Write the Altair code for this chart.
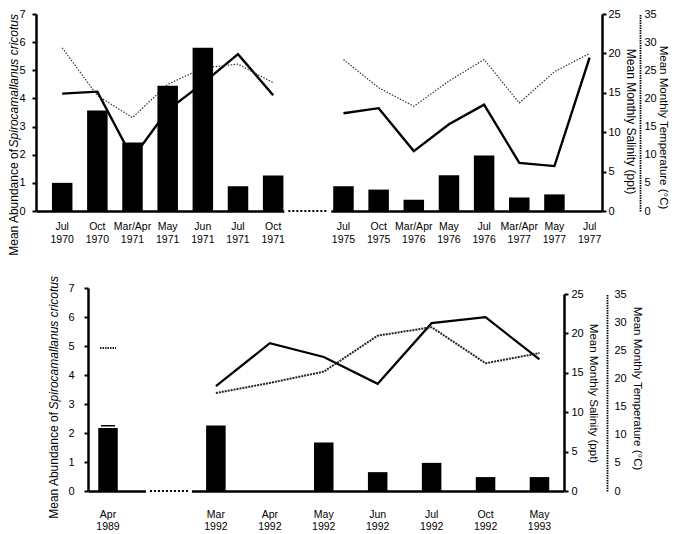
import altair as alt
import pandas as pd

FONT = "Liberation Sans, Arial, sans-serif"

# ---------------- data: upper panel ----------------
top_months = ["Jul 1970", "Oct 1970", "Mar/Apr 1971", "May 1971", "Jun 1971", "Jul 1971", "Oct 1971",
              "gap",
              "Jul 1975", "Oct 1975", "Mar/Apr 1976", "May 1976", "Jul 1976", "Mar/Apr 1977", "May 1977", "Jul 1977"]
top_abundance = [1.0, 3.57, 2.43, 4.45, 5.8, 0.88, 1.26, None, 0.88, 0.76, 0.40, 1.27, 1.97, 0.48, 0.59, None]
top_salinity = [14.9, 15.15, 6.7, 12.8, 16.2, 19.9, 14.7, None, 12.4, 13.05, 7.6, 11.0, 13.5, 6.1, 5.7, 19.45]
top_temperature = [29.0, 20.5, 16.6, 22.5, 25.4, 26.1, 22.8, None, 26.9, 21.9, 18.6, 23.1, 26.9, 19.2, 24.75, 28.0]
top_period = ["1970-71"] * 7 + [None] + ["1975-77"] * 8

# ---------------- data: lower panel ----------------
bot_months = ["Apr 1989", "gap", "Mar 1992", "Apr 1992", "May 1992", "Jun 1992", "Jul 1992", "Oct 1992", "May 1993"]
bot_abundance = [2.17, None, 2.26, None, 1.67, 0.65, 0.97, 0.48, 0.48]
bot_error_top = [2.25, None, None, None, None, None, None, None, None]
bot_salinity = [None, None, 13.3, 18.75, 17.0, 13.6, 21.3, 22.05, 16.7]
bot_temperature = [25.4, None, 17.4, 19.2, 21.2, 27.6, 29.1, 22.7, 24.5]
bot_period = ["1989", None] + ["1992-93"] * 7

title_plain = "Mean Abundance of"
title_italic = "Spirocamallanus cricotus"
sal_title = "Mean Monthly Salinity (ppt)"
temp_title = "Mean Monthly Temperature (\u00b0C)"


def frame(months, ab, sal, temp, period, err=None):
    d = pd.DataFrame({"month": months, "abundance": ab, "salinity": sal,
                      "temperature": temp, "period": period})
    if err is not None:
        d["err"] = err
    return d


def panel(df, months, W, H, band, xlab, left, sal_ax, temp_ax, temp_style, title_pos, line_w, gap_off):
    X = alt.X("month:N",
              scale=alt.Scale(domain=months, paddingInner=band[0], paddingOuter=band[1], align=band[2]),
              axis=alt.Axis(title=None, labelAngle=0, ticks=False, tickSize=0, labelPadding=xlab[0],
                            labelExpr="datum.label == 'gap' ? '' : split(datum.label, ' ')",
                            labelFont=FONT, labelFontSize=10.5, labelLineHeight=xlab[1],
                            labelOverlap=False, domainWidth=2.5))

    def yab(field):
        return alt.Y(field + ":Q", scale=alt.Scale(domain=[0, 7], nice=False),
                     axis=alt.Axis(orient="left", values=list(range(8)), title=None, tickSize=4, tickWidth=2,
                                   domainWidth=2.5, labelPadding=left, labelFont=FONT, labelFontSize=11,
                                   labelOverlap=False))

    Yab = yab("abundance")
    Ysal = alt.Y("salinity:Q", scale=alt.Scale(domain=[0, 25], nice=False, range=[H, sal_ax["top"]]),
                 axis=alt.Axis(orient="right", values=[0, 5, 10, 15, 20, 25], title=sal_title,
                               tickSize=4, tickWidth=2, domainWidth=2.5, labelPadding=sal_ax["lp"],
                               labelFont=FONT, labelFontSize=11, titleFont=FONT, labelOverlap=False,
                               titleFontSize=sal_ax["fs"], titlePadding=sal_ax["tp"], titleY=sal_ax["ty"]))
    Ytemp = alt.Y("temperature:Q", scale=alt.Scale(domain=[0, 35], nice=False, range=[H, sal_ax["top"]]),
                  axis=alt.Axis(orient="right", offset=temp_ax["off"], values=[0, 5, 10, 15, 20, 25, 30, 35],
                                title=temp_title, ticks=False, tickSize=0, domainWidth=1.8,
                                domainDash=[1.5, 1], labelPadding=temp_ax["lp"], labelFont=FONT,
                                labelFontSize=11, titleFont=FONT, titleFontSize=temp_ax["fs"],
                                labelOverlap=False, titlePadding=temp_ax["tp"], titleY=temp_ax["ty"]))

    lines = df[df["salinity"].notna()]
    temps = df[df["temperature"].notna()]
    bars = df[df["abundance"].notna()]

    sal_layer = alt.Chart(lines).mark_line(color="black", strokeWidth=line_w).encode(
        x=X, y=Ysal, detail="period:N")

    temp_line = alt.Chart(temps).mark_line(color=temp_style["color"], strokeWidth=temp_style["w"],
                                           strokeDash=temp_style["dash"]).encode(
        x=X, y=Ytemp, detail="period:N")
    counts = temps.groupby("period")["month"].transform("count")
    singles = temps[counts == 1]
    temp_group = temp_line
    if len(singles):
        dash = alt.Chart(singles).mark_rule(color=temp_style["color"], strokeWidth=2,
                                            strokeDash=[1.5, 1], xOffset=-8, x2Offset=8).encode(
            x=X, x2="month:N", y=Ytemp)
        temp_group = alt.layer(temp_line, dash)

    g0, g1 = gap_off
    gap = pd.DataFrame({"month": ["gap"], "abundance": [0.0]})
    cover = alt.Chart(gap).mark_rule(color="white", strokeWidth=5, xOffset=g0 - 4, x2Offset=g1 + 4).encode(
        x=X, x2="month:N", y=Yab)
    dotted = alt.Chart(gap).mark_rule(color="black", strokeWidth=2, strokeDash=[2, 2],
                                      xOffset=g0, x2Offset=g1).encode(x=X, x2="month:N", y=Yab)
    bar_layer = alt.Chart(bars).mark_bar(color="black").encode(x=X, y=Yab)
    layers = [cover, dotted, bar_layer]
    if "err" in df.columns:
        errs = df[df["err"].notna()]
        cap = alt.Chart(errs).mark_rule(color="black", strokeWidth=1.5, xOffset=-7, x2Offset=7).encode(
            x=X, x2="month:N", y=yab("err"))
        layers.append(cap)
    tx, tj, ttop = title_pos
    t1 = alt.Chart(pd.DataFrame({"t": [title_plain]})).mark_text(
        angle=270, align="right", baseline="middle", font=FONT, fontSize=12, color="black").encode(
        text="t:N", x=alt.value(tx), y=alt.value(tj))
    t2 = alt.Chart(pd.DataFrame({"t": [title_italic]})).mark_text(
        angle=270, align="right", baseline="middle", font=FONT, fontSize=12, fontStyle="italic",
        color="black").encode(text="t:N", x=alt.value(tx), y=alt.value(ttop))
    layers += [t1, t2]
    ab_group = alt.layer(*layers)

    return alt.layer(sal_layer, temp_group, ab_group).resolve_scale(y="independent").properties(
        width=W, height=H)


top_df = frame(top_months, top_abundance, top_salinity, top_temperature, top_period)
bot_df = frame(bot_months, bot_abundance, bot_salinity, bot_temperature, bot_period, bot_error_top)

top = panel(top_df, top_months, 566, 197, (0.417, 0.2574, 0.881), (10, 13), 7,
            {"top": 0, "lp": 2, "fs": 12, "tp": 3, "ty": 107},
            {"off": 38, "lp": 4, "fs": 11.5, "tp": 1, "ty": 113},
            {"color": "#333333", "w": 1.2, "dash": [1.5, 1.5]},
            (-22, 135, 0), 2.4, (-20, 19))

bottom = panel(bot_df, bot_months, 476, 203, (0.638, 0.2318, 0.41), (18, 12), 10,
               {"top": 6, "lp": 3, "fs": 11.5, "tp": 4, "ty": 105},
               {"off": 43, "lp": 7, "fs": 11.5, "tp": 5, "ty": 100},
               {"color": "#222222", "w": 2, "dash": [2, 1]},
               (-34, 124, -12), 2.2, (-12, 26))

spacer = alt.Chart(pd.DataFrame({"v": [0]})).mark_point(opacity=0).properties(width=12, height=10)

chart = alt.vconcat(top, alt.hconcat(spacer, bottom, spacing=0), spacing=19).properties(
    padding={"left": 0, "top": 0, "right": 0, "bottom": 0}
).configure_view(stroke=None).configure_axis(
    labelColor="black", titleColor="black", domainColor="black", tickColor="black",
    grid=False, titleFontWeight="normal")

chart.save("out.html", embed_options={"renderer": "svg", "actions": False})
